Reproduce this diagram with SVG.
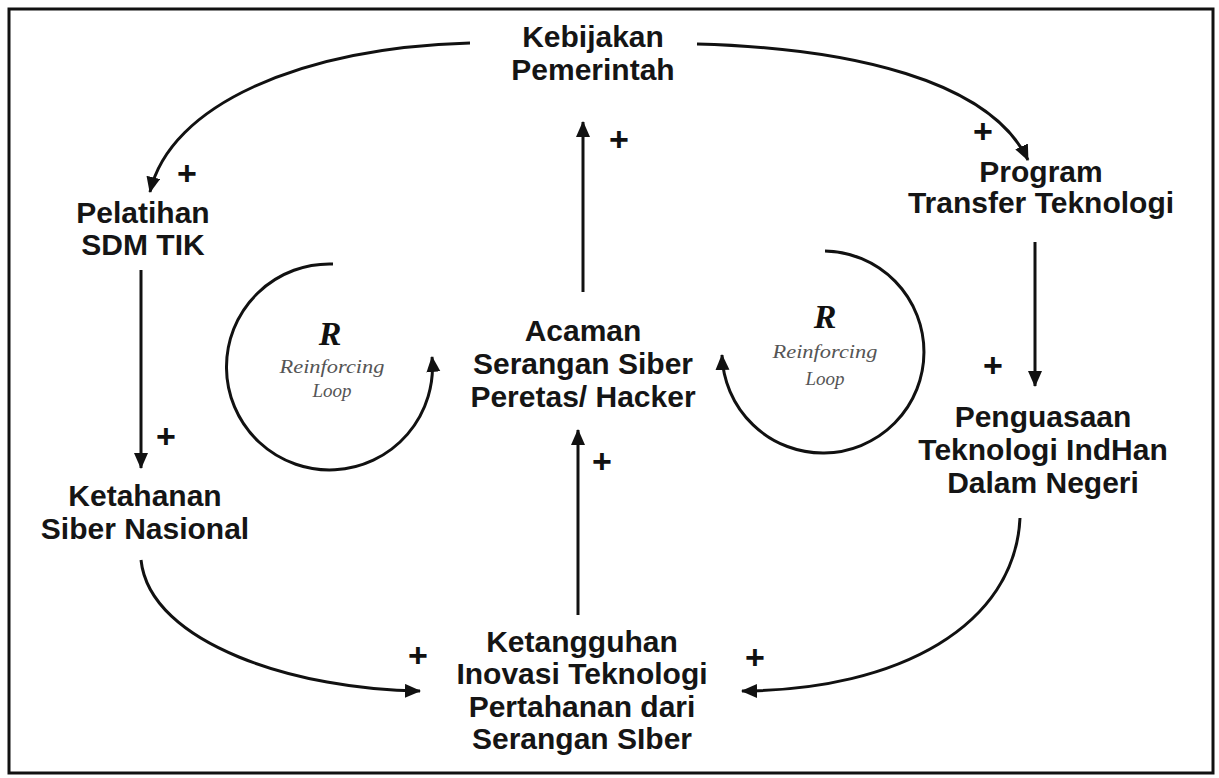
<svg xmlns="http://www.w3.org/2000/svg" width="1219" height="778" viewBox="0 0 1219 778">
<style>
.n{font-family:"Liberation Sans",Arial,sans-serif;font-weight:bold;font-size:30px;fill:#151515;text-anchor:middle}
.p{font-family:"Liberation Sans",Arial,sans-serif;font-weight:bold;font-size:34px;fill:#111;text-anchor:middle}
.c{fill:none;stroke:#111;stroke-width:3}
.R{font-family:"Liberation Serif","Times New Roman",serif;font-weight:bold;font-style:italic;font-size:34px;fill:#111;text-anchor:middle}
.l{font-family:"Liberation Serif","Times New Roman",serif;font-style:italic;font-size:19px;fill:#555;text-anchor:middle}
</style>
<defs>
<marker id="ah" markerUnits="userSpaceOnUse" markerWidth="18" markerHeight="16" refX="15" refY="7" orient="auto">
<path d="M0,0 L16,7 L0,14 Z" fill="#111"/>
</marker>
</defs>
<rect x="0" y="0" width="1219" height="778" fill="#fff"/>
<rect x="9" y="9" width="1204" height="764" fill="none" stroke="#111" stroke-width="3"/>

<g id="connectors">
<path class="c" d="M470,43 C300,48 170,105 150,192" marker-end="url(#ah)"/>
<path class="c" d="M697,44 C850,48 990,80 1028,160" marker-end="url(#ah)"/>
<path class="c" d="M141,270 L141,468" marker-end="url(#ah)"/>
<path class="c" d="M1035,242 L1035,386" marker-end="url(#ah)"/>
<path class="c" d="M583,292 L583,122" marker-end="url(#ah)"/>
<path class="c" d="M578,615 L578,430" marker-end="url(#ah)"/>
<path class="c" d="M141,560 C150,645 300,690 420,691" marker-end="url(#ah)"/>
<path class="c" d="M1020,518 C1015,625 900,690 742,691" marker-end="url(#ah)"/>
<text class="p" x="187" y="185">+</text>
<text class="p" x="983" y="143">+</text>
<text class="p" x="619" y="151">+</text>
<text class="p" x="166" y="448">+</text>
<text class="p" x="993" y="377">+</text>
<text class="p" x="602" y="473">+</text>
<text class="p" x="418" y="667">+</text>
<text class="p" x="755" y="669">+</text>
</g>

<g id="loop-left">
<path class="c" d="M333,264 A103,103 0 1 0 432,357" marker-end="url(#ah)"/>
<text class="R" x="330" y="345">R</text>
<text class="l" x="332" y="373" textLength="105" lengthAdjust="spacingAndGlyphs">Reinforcing</text>
<text class="l" x="332" y="397">Loop</text>
</g>
<g id="loop-right">
<path class="c" d="M825,251 A101,101 0 1 1 722,355" marker-end="url(#ah)"/>
<text class="R" x="825" y="328">R</text>
<text class="l" x="825" y="358" textLength="105" lengthAdjust="spacingAndGlyphs">Reinforcing</text>
<text class="l" x="825" y="385">Loop</text>
</g>

<g id="kebijakan"><text class="n" x="593" y="47">Kebijakan</text><text class="n" x="593" y="80">Pemerintah</text></g>
<g id="pelatihan"><text class="n" x="143" y="223">Pelatihan</text><text class="n" x="143" y="255">SDM TIK</text></g>
<g id="program"><text class="n" x="1041" y="182">Program</text><text class="n" x="1041" y="213">Transfer Teknologi</text></g>
<g id="acaman"><text class="n" x="583" y="341">Acaman</text><text class="n" x="583" y="374">Serangan Siber</text><text class="n" x="583" y="407">Peretas/ Hacker</text></g>
<g id="penguasaan"><text class="n" x="1043" y="427">Penguasaan</text><text class="n" x="1043" y="460">Teknologi IndHan</text><text class="n" x="1043" y="493">Dalam Negeri</text></g>
<g id="ketahanan"><text class="n" x="145" y="506">Ketahanan</text><text class="n" x="145" y="539">Siber Nasional</text></g>
<g id="ketangguhan"><text class="n" x="582" y="652">Ketangguhan</text><text class="n" x="582" y="684">Inovasi Teknologi</text><text class="n" x="582" y="717">Pertahanan dari</text><text class="n" x="582" y="749">Serangan SIber</text></g>
</svg>
